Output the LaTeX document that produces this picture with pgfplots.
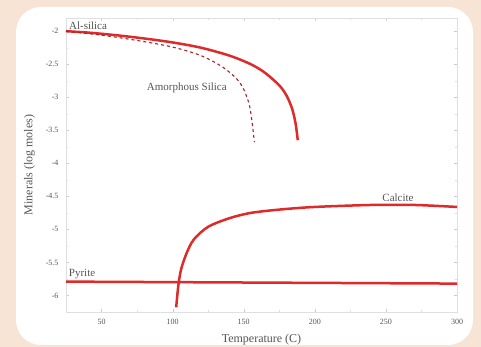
\documentclass[border=0pt]{standalone}
\usepackage{pgfplots}
\pgfplotsset{compat=1.18}
\usepackage{fontspec}
\setmainfont{Liberation Serif}
\definecolor{peach}{RGB}{247,228,212}
\definecolor{curvered}{RGB}{222,42,42}
\definecolor{txt}{RGB}{85,85,85}
\begin{document}
\begin{tikzpicture}
\path[use as bounding box] (0pt,0pt) rectangle (481pt,347pt);
\fill[peach] (0pt,0pt) rectangle (481pt,347pt);
\fill[white,rounded corners=25pt] (16pt,2pt) rectangle (473pt,340pt);
\begin{axis}[
  at={(66pt,35pt)}, anchor=south west,
  width=391pt, height=294pt, scale only axis,
  xmin=25, xmax=300, ymin=-6.25, ymax=-1.8,
  xtick={50,100,...,300},
  ytick={-6,-5.5,...,-2},
  minor x tick num=1, minor y tick num=1,
  axis line style={gray!25},
  major tick style={gray!40}, minor tick style={gray!25},
  major tick length=3pt, minor tick length=2pt,
  tick align=inside,
  ticklabel style={font=\fontsize{8}{9}\selectfont, text=txt},
  xticklabel style={yshift=-4pt},
  yticklabel style={xshift=-4pt},
  /pgf/number format/assume math mode=true,
  yticklabel style={/pgf/number format/fixed},
  xlabel={Temperature (C)}, ylabel={Minerals (log moles)},
  label style={font=\fontsize{12}{13}\selectfont, text=txt},
  xlabel style={yshift=-2pt}, ylabel style={yshift=4pt},
  clip=false,
]
\addplot[curvered, line width=2.5pt, smooth] coordinates {
(25,-2.00) (40,-2.02) (60,-2.06) (80,-2.11) (100,-2.17) (120,-2.25) (140,-2.37) (155,-2.50) (165,-2.63) (175,-2.82) (180,-2.97) (184,-3.17) (186.5,-3.40) (188,-3.65)};
\addplot[curvered!80!black, line width=1.1pt, dashed, smooth] coordinates {
(25,-2.00) (50,-2.06) (75,-2.14) (100,-2.24) (120,-2.37) (135,-2.54) (145,-2.72) (150,-2.88) (154,-3.12) (156,-3.40) (157.5,-3.68)};
\addplot[curvered, line width=2.5pt, smooth] coordinates {
(102.5,-6.18) (104,-5.85) (106,-5.60) (110,-5.35) (115,-5.15) (125,-4.96) (140,-4.83) (155,-4.75) (175,-4.70) (200,-4.66) (240,-4.63) (270,-4.63) (300,-4.66)};
\addplot[curvered, line width=2.5pt] coordinates {(25,-5.79) (300,-5.82)};
\node[font=\fontsize{11}{12}\selectfont, text=txt] at (axis cs:40.5,-1.91) {Al-silica};
\node[font=\fontsize{11}{12}\selectfont, text=txt] at (axis cs:110,-2.86) {Amorphous Silica};
\node[font=\fontsize{11}{12}\selectfont, text=txt] at (axis cs:258.5,-4.52) {Calcite};
\node[font=\fontsize{11}{12}\selectfont, text=txt] at (axis cs:36.3,-5.68) {Pyrite};
\end{axis}
\end{tikzpicture}
\end{document}
